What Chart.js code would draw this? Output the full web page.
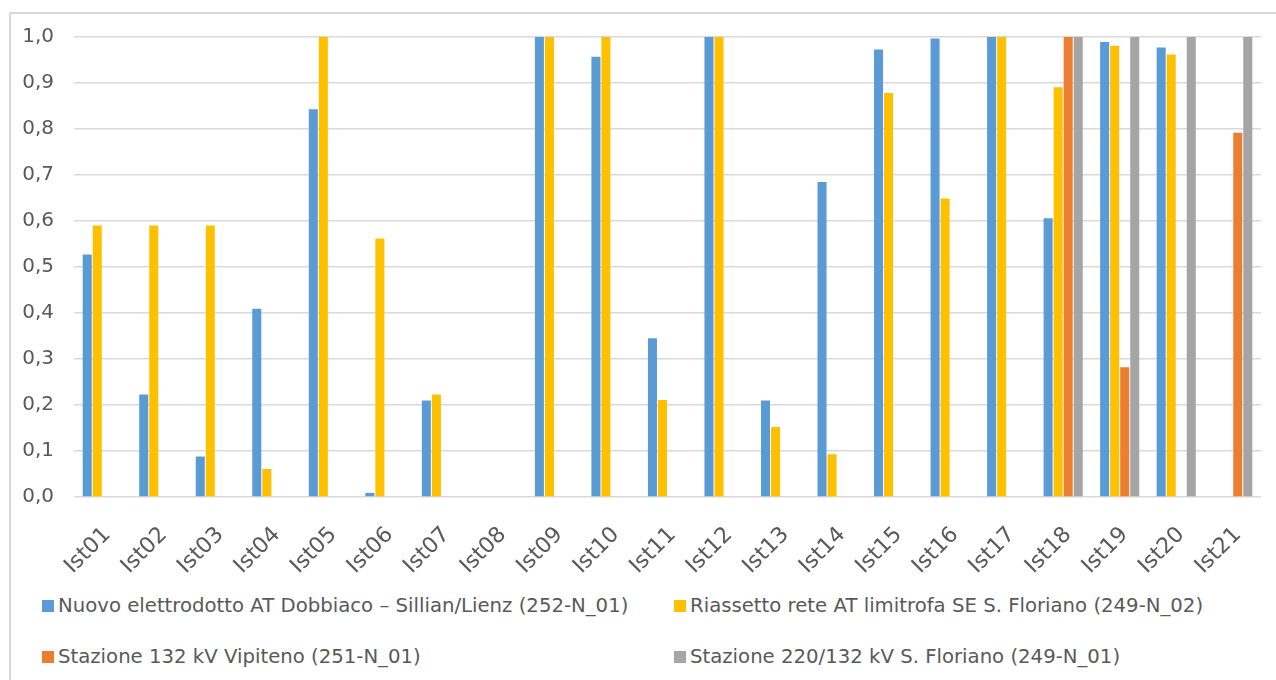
<!DOCTYPE html>
<html lang="it">
<head>
<meta charset="utf-8">
<title>Indicatori per istanza</title>
<script src="https://cdn.jsdelivr.net/npm/chart.js@4.4.1/dist/chart.umd.min.js"></script>
<style>
  html, body { margin: 0; padding: 0; background: #ffffff; }
  body { width: 1276px; height: 680px; position: relative; overflow: hidden; font-family: "DejaVu Sans", Verdana, sans-serif; }
  #frame { position: absolute; left: 9px; top: 12px; width: 1300px; height: 700px; border-left: 2px solid #d9d9d9; border-top: 2px solid #d9d9d9; box-sizing: border-box; }
  #chart { position: absolute; left: 0; top: 0; }
  .legend-item { position: absolute; display: flex; align-items: center; font-size: 19.7px; color: #595959; white-space: nowrap; line-height: 1; }
  .legend-item .swatch { width: 12px; height: 12px; margin-right: 4px; flex: none; }
</style>
</head>
<body>
<div id="frame"></div>
<canvas id="chart" width="1276" height="580"></canvas>
<div id="legend"></div>
<script>
// Categories (istanze) and the four series, one value per category; null = no bar
const categories = ['Ist01','Ist02','Ist03','Ist04','Ist05','Ist06','Ist07','Ist08','Ist09','Ist10','Ist11',
                    'Ist12','Ist13','Ist14','Ist15','Ist16','Ist17','Ist18','Ist19','Ist20','Ist21'];

const seriesNames = [
  'Nuovo elettrodotto AT Dobbiaco – Sillian/Lienz (252-N_01)',
  'Riassetto rete AT limitrofa SE S. Floriano (249-N_02)',
  'Stazione 132 kV Vipiteno (251-N_01)',
  'Stazione 220/132 kV S. Floriano (249-N_01)'
];

const dobbiacoSillian = [0.527, 0.223, 0.088, 0.409, 0.843, 0.009, 0.21, null, 1.0, 0.957, 0.345,
                         1.0, 0.21, 0.685, 0.973, 0.997, 1.0, 0.606, 0.989, 0.977, null];
const riassettoFloriano = [0.59, 0.59, 0.59, 0.061, 1.0, 0.562, 0.223, null, 1.0, 1.0, 0.211,
                           1.0, 0.152, 0.093, 0.878, 0.649, 1.0, 0.891, 0.981, 0.962, null];
const stazioneVipiteno = [null, null, null, null, null, null, null, null, null, null, null,
                          null, null, null, null, null, null, 1.0, 0.282, null, 0.792];
const stazioneFloriano = [null, null, null, null, null, null, null, null, null, null, null,
                          null, null, null, null, null, null, 1.0, 1.0, 1.0, 1.0];

const seriesColors = ['#5b9bd5', '#ffc000', '#ed7d31', '#a5a5a5'];
const seriesValues = [dobbiacoSillian, riassettoFloriano, stazioneVipiteno, stazioneFloriano];

const textColor = '#595959';
const gridColor = '#d9d9d9';

new Chart(document.getElementById('chart'), {
  type: 'bar',
  data: {
    labels: categories,
    datasets: seriesValues.map((vals, i) => ({
      label: seriesNames[i],
      data: vals,
      backgroundColor: seriesColors[i],
      borderWidth: 0,
      categoryPercentage: 0.71,
      barPercentage: 0.9
    }))
  },
  options: {
    responsive: false,
    animation: false,
    layout: { padding: { left: 0, right: 15, top: 37, bottom: 0 } },
    plugins: {
      legend: { display: false },
      tooltip: { enabled: false }
    },
    scales: {
      x: {
        grid: { display: false },
        border: { display: false },
        ticks: {
          color: textColor,
          font: { family: 'Verdana, "DejaVu Sans", sans-serif', size: 22 },
          minRotation: 45,
          maxRotation: 45,
          autoSkip: false,
          padding: 17,
          labelOffset: 5
        },
        afterFit: (scale) => { scale.height = 83; }
      },
      y: {
        min: 0,
        max: 1,
        grid: { color: gridColor, lineWidth: 1.5, drawTicks: false },
        border: { display: false },
        ticks: {
          stepSize: 0.1,
          color: textColor,
          padding: 20,
          font: { family: '"DejaVu Sans", Verdana, sans-serif', size: 20 },
          callback: (v) => v.toFixed(1).replace('.', ',')
        },
        afterFit: (scale) => { scale.width = 74; }
      }
    }
  }
});

// Legend laid out as a two-column grid under the plot
const legendSlots = [
  { left: 42, top: 606 },
  { left: 674, top: 606 },
  { left: 42, top: 657 },
  { left: 674, top: 657 }
];
const legend = document.getElementById('legend');
seriesNames.forEach((name, i) => {
  const item = document.createElement('div');
  item.className = 'legend-item';
  item.style.left = legendSlots[i].left + 'px';
  item.style.top = (legendSlots[i].top - 11) + 'px';
  item.style.height = '22px';
  const sw = document.createElement('span');
  sw.className = 'swatch';
  sw.style.background = seriesColors[i];
  const tx = document.createElement('span');
  tx.textContent = name;
  item.appendChild(sw);
  item.appendChild(tx);
  legend.appendChild(item);
});
</script>
</body>
</html>
